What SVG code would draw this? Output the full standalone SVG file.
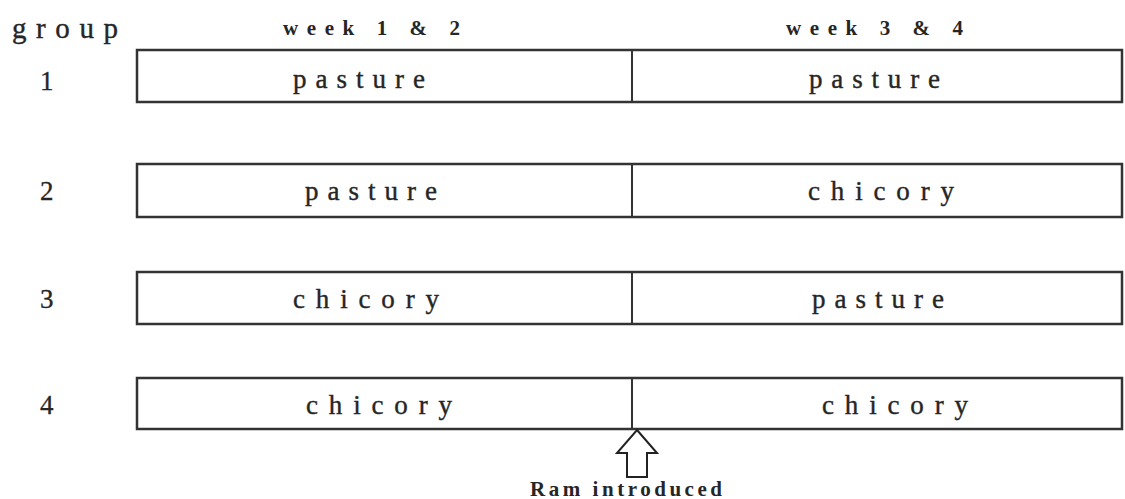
<svg xmlns="http://www.w3.org/2000/svg" width="1125" height="499" viewBox="0 0 1125 499">
<style>
.box{fill:#fff;stroke:#333;stroke-width:2.5}
.div{stroke:#333;stroke-width:2}
.t{font-family:"Liberation Serif",serif;fill:#262626}
.cell{font-size:27px;stroke:#262626;stroke-width:0.4}
.num{font-size:27px;stroke:#262626;stroke-width:0.3}
.hdr{font-size:21px;font-weight:bold}
</style>
<rect width="1125" height="499" fill="#fff"/>
<g id="headers">
<text class="t" x="12" y="38" font-size="29" stroke="#262626" stroke-width="0.4" textLength="106" lengthAdjust="spacing">group</text>
<text class="t hdr" x="283" y="35" textLength="177" lengthAdjust="spacing">week 1 &amp; 2</text>
<text class="t hdr" x="786" y="35" textLength="177" lengthAdjust="spacing">week 3 &amp; 4</text>
</g>
<g id="group1">
<text class="t num" x="40" y="90">1</text>
<rect class="box" x="137" y="50" width="985" height="52"/>
<line class="div" x1="632" y1="50" x2="632" y2="102"/>
<text class="t cell" x="293" y="88" textLength="132" lengthAdjust="spacing">pasture</text>
<text class="t cell" x="809" y="88" textLength="131" lengthAdjust="spacing">pasture</text>
</g>
<g id="group2">
<text class="t num" x="40" y="200">2</text>
<rect class="box" x="137" y="164" width="985" height="53"/>
<line class="div" x1="632" y1="164" x2="632" y2="217"/>
<text class="t cell" x="305" y="200" textLength="132" lengthAdjust="spacing">pasture</text>
<text class="t cell" x="808" y="200" textLength="146" lengthAdjust="spacing">chicory</text>
</g>
<g id="group3">
<text class="t num" x="40" y="308">3</text>
<rect class="box" x="137" y="272" width="985" height="52"/>
<line class="div" x1="632" y1="272" x2="632" y2="324"/>
<text class="t cell" x="293" y="308" textLength="146" lengthAdjust="spacing">chicory</text>
<text class="t cell" x="812" y="308" textLength="132" lengthAdjust="spacing">pasture</text>
</g>
<g id="group4">
<text class="t num" x="40" y="414">4</text>
<rect class="box" x="137" y="378" width="985" height="51"/>
<line class="div" x1="632" y1="378" x2="632" y2="429"/>
<text class="t cell" x="306" y="414" textLength="146" lengthAdjust="spacing">chicory</text>
<text class="t cell" x="822" y="414" textLength="146" lengthAdjust="spacing">chicory</text>
</g>
<g id="connectors">
<path d="M637 430 L657 453 L647 453 L647 477 L627 477 L627 453 L617 453 Z" fill="#fff" stroke="#222" stroke-width="2" stroke-linejoin="miter"/>
</g>
<g id="ram">
<text class="t" x="530" y="496" font-size="21" font-weight="bold" textLength="192" lengthAdjust="spacing">Ram introduced</text>
</g>
</svg>
